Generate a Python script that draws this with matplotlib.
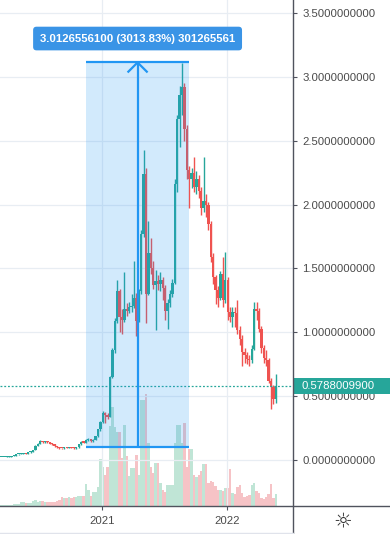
import numpy as np
import pandas as pd
import matplotlib
matplotlib.use("Agg")
import matplotlib.pyplot as plt
import matplotlib.dates as mdates
import matplotlib.transforms as mtransforms
from matplotlib.patches import Rectangle
from matplotlib.lines import Line2D

plt.rcParams['font.family'] = ['Liberation Sans', 'DejaVu Sans']

UP = '#26a69a'
DOWN = '#ef5350'
VOL_UP = '#c0e5d6'
VOL_DOWN = '#f6c3c6'
AXIS = '#50535e'
TEXT = '#4a4a4a'
GRID = '#e8edf3'
MEASURE = '#2196f3'

# weekly candles, first one on 2020-03-02
FIRST_OPEN = 0.025
closes = [0.026, 0.026, 0.027, 0.027, 0.028, 0.028, 0.033, 0.036, 0.045, 0.047,
          0.050, 0.052, 0.051, 0.060, 0.066, 0.078, 0.112, 0.128, 0.148, 0.142,
          0.145, 0.140, 0.130, 0.125, 0.110, 0.100, 0.094, 0.092, 0.100, 0.096,
          0.100, 0.098, 0.094, 0.100, 0.125, 0.142, 0.138, 0.160, 0.165, 0.152,
          0.158, 0.185, 0.240, 0.300, 0.370, 0.350, 0.340, 0.650, 0.860, 1.090,
          1.320, 1.120, 1.100, 1.180, 1.170, 1.200, 1.210, 1.270, 1.090, 1.320,
          1.770, 2.240, 1.300, 1.620, 1.500, 1.370, 1.400, 1.380, 1.410, 1.350,
          1.170, 1.230, 1.300, 1.390, 2.160, 2.670, 2.860, 2.920, 2.590, 2.270,
          2.200, 2.250, 2.140, 2.200, 2.110, 1.970, 2.030, 2.000, 1.850, 1.590,
          1.430, 1.330, 1.270, 1.460, 1.250, 1.410, 1.160, 1.120, 1.160, 1.150,
          1.020, 0.950, 0.850, 0.820, 0.790, 0.780, 0.870, 1.180, 1.170, 1.030,
          0.880, 0.800, 0.780, 0.620, 0.570, 0.480, 0.5788009900]
highs = [0.027, 0.027, 0.028, 0.028, 0.030, 0.030, 0.034, 0.038, 0.047, 0.050,
         0.052, 0.055, 0.055, 0.062, 0.069, 0.080, 0.118, 0.135, 0.155, 0.152,
         0.150, 0.148, 0.142, 0.134, 0.128, 0.113, 0.104, 0.098, 0.104, 0.103,
         0.104, 0.103, 0.101, 0.104, 0.128, 0.147, 0.146, 0.166, 0.172, 0.168,
         0.165, 0.190, 0.245, 0.310, 0.385, 0.380, 0.370, 0.660, 0.880, 1.110,
         1.410, 1.340, 1.180, 1.470, 1.230, 1.240, 1.300, 1.560, 1.310, 1.340,
         1.800, 2.430, 2.290, 1.870, 1.740, 1.560, 1.490, 1.450, 1.470, 1.430,
         1.370, 1.260, 1.330, 1.420, 2.200, 2.700, 2.930, 3.110, 2.950, 2.620,
         2.300, 2.290, 2.370, 2.260, 2.230, 2.140, 2.370, 2.080, 2.020, 1.870,
         1.620, 1.450, 1.360, 1.480, 1.590, 1.630, 1.430, 1.200, 1.200, 1.200,
         1.250, 1.050, 0.980, 0.880, 0.850, 0.820, 0.900, 1.240, 1.240, 1.190,
         1.050, 0.900, 0.860, 0.800, 0.640, 0.590, 0.677]
lows = [0.024, 0.025, 0.025, 0.026, 0.026, 0.027, 0.027, 0.032, 0.035, 0.043,
        0.045, 0.048, 0.049, 0.050, 0.058, 0.064, 0.076, 0.108, 0.125, 0.136,
        0.138, 0.134, 0.125, 0.119, 0.105, 0.095, 0.089, 0.087, 0.090, 0.092,
        0.093, 0.094, 0.090, 0.091, 0.098, 0.122, 0.132, 0.135, 0.150, 0.140,
        0.145, 0.155, 0.180, 0.230, 0.290, 0.290, 0.320, 0.335, 0.640, 0.840,
        1.070, 1.000, 0.990, 1.080, 1.130, 1.150, 1.160, 1.190, 0.970, 1.080,
        1.300, 1.750, 1.070, 1.290, 1.460, 1.340, 1.020, 1.330, 1.320, 1.250,
        1.100, 1.030, 1.200, 1.280, 1.380, 2.100, 2.450, 2.700, 2.500, 2.200,
        1.970, 2.130, 2.100, 2.080, 2.050, 1.920, 1.940, 1.900, 1.800, 1.550,
        1.380, 1.220, 1.200, 1.250, 1.200, 1.230, 1.100, 1.080, 1.040, 1.040,
        0.990, 0.900, 0.740, 0.760, 0.750, 0.740, 0.760, 0.860, 1.100, 1.000,
        0.840, 0.760, 0.740, 0.600, 0.400, 0.440, 0.450]
# volume, in the height it has on the chart
volumes = [1, 1, 1, 1, 1, 1, 1, 2, 2, 2,
           4, 4, 3, 3, 3, 5, 6, 4, 5, 5,
           4, 4, 4, 4, 4, 5, 6, 9, 8, 8,
           9, 8, 9, 9, 10, 10, 10, 22, 16, 10,
           14, 14, 19, 47, 39, 31, 39, 80, 99, 79,
           74, 74, 48, 81, 50, 30, 38, 38, 51, 31,
           106, 106, 112, 63, 39, 33, 43, 43, 23, 16,
           14, 21, 21, 21, 63, 81, 81, 63, 83, 39,
           57, 57, 31, 29, 31, 35, 42, 42, 23, 25,
           24, 20, 16, 16, 15, 18, 18, 37, 13, 12,
           19, 21, 13, 9, 10, 11, 21, 23, 15, 13,
           8, 7, 9, 12, 22, 8, 12]

price_ticks = [0.0, 0.5, 1.0, 1.5, 2.0, 2.5, 3.0, 3.5]
year_ticks = ['2021-01-01', '2022-01-01']
year_labels = ['2021', '2022']

# price range tool
MEASURE_FROM = 37
MEASURE_TO = 80
measure_low = 0.0999611
measure_high = 3.11261671

closes = np.array(closes)
opens = np.r_[FIRST_OPEN, closes[:-1]]
highs = np.array(highs)
lows = np.array(lows)
dates = pd.date_range('2020-03-02', periods=len(closes), freq='7D')
x = mdates.date2num(dates)
up = closes >= opens
col = np.where(up, UP, DOWN)
vcol = np.where(up, VOL_UP, VOL_DOWN)

W, H = 390, 534
fig = plt.figure(figsize=(W / 100, H / 100), dpi=100)
rect = [0, 28 / H, 293 / W, 506 / H]
axv = fig.add_axes(rect, zorder=0)
ax = fig.add_axes(rect, zorder=1)
ax.patch.set_alpha(0)

yt = mdates.date2num(pd.to_datetime(year_ticks))
days_px = (yt[1] - yt[0]) / 125.3
x_left = yt[0] - 101.7 * days_px
x_right = x_left + 293 * days_px

# volume
axv.bar(x, volumes, width=7.0, color=vcol, linewidth=0)
axv.set_xlim(x_left, x_right)
axv.set_ylim(0, 506)
axv.axis('off')

# candles
ax.vlines(x, lows, highs, color=col, lw=1.0, zorder=3)
ax.bar(x, np.maximum(np.abs(closes - opens), 0.008), bottom=np.minimum(opens, closes),
       width=6.9, color=col, linewidth=0, zorder=3)

ax.set_xlim(x_left, x_right)
ax.set_ylim(-0.359, 3.6016)

ax.set_yticks(price_ticks)
ax.set_yticklabels([f"{v:.10f}" for v in price_ticks])
ax.yaxis.tick_right()
ax.set_xticks(yt)
ax.set_xticklabels(year_labels)
ax.tick_params(axis='y', length=3, width=0.8, color=AXIS, labelsize=8.2,
               labelcolor=TEXT, pad=3.5)
ax.tick_params(axis='x', length=3, width=0.8, color=AXIS, labelsize=8.2,
               labelcolor=TEXT, pad=4)
ax.grid(color=GRID, lw=0.9, zorder=0)
ax.set_axisbelow(True)
for s in ax.spines.values():
    s.set_visible(False)

# last price
last = closes[-1]
ax.axhline(last, color=UP, lw=0.9, ls=(0, (1.5, 1.5)), zorder=4)
blend = mtransforms.blended_transform_factory(fig.transFigure, ax.transData)
ax.add_patch(Rectangle((293 / W, last - 8 / 128), 97 / W, 16 / 128, transform=blend,
                       facecolor=UP, edgecolor='none', clip_on=False, zorder=10))
ax.text(302 / W, last, f"{last:.10f}", transform=blend, ha='left', va='center',
        color='white', fontsize=8.2, zorder=11, clip_on=False)

# price range drawing
x0, x1 = x[MEASURE_FROM], x[MEASURE_TO]
mid = (x0 + x1) / 2
ax.add_patch(Rectangle((x0, measure_low), x1 - x0, measure_high - measure_low,
                       facecolor=MEASURE, alpha=0.2, edgecolor='none', zorder=5))
ax.hlines([measure_low, measure_high], x0, x1, color=MEASURE, lw=1.6, zorder=6)
ax.vlines(mid, measure_low, measure_high, color=MEASURE, lw=1.6, zorder=6)
ax.plot([mid - 10 * days_px, mid, mid + 10 * days_px],
        [measure_high - 10 / 128, measure_high, measure_high - 10 / 128],
        color=MEASURE, lw=1.6, zorder=6, solid_capstyle='butt')
diff = round(measure_high - measure_low, 8)
label = f"{diff:.10f} ({diff / measure_low * 100:.2f}%) {round(diff * 1e8)}"
ax.text(mid, 3.30, label, ha='center', va='center', color='white', fontsize=8.2,
        fontweight='bold', zorder=8,
        bbox=dict(boxstyle='round,pad=0.6,rounding_size=0.3', fc='#3a94e6', ec='none'))

# frame lines of the chart pane
fig.add_artist(Line2D([0, 1], [28 / H, 28 / H], color=AXIS, lw=1))
fig.add_artist(Line2D([293 / W, 293 / W], [1 / H, 1], color=AXIS, lw=1))
fig.add_artist(Line2D([0, 293 / W], [1.5 / H, 1.5 / H], color='#e0e3eb', lw=1))
fig.text(343 / W, 1 - 521 / H, '\u263c', ha='center', va='center', fontsize=15,
         color='#333333', family='DejaVu Sans')

fig.savefig('out.png', dpi=100, facecolor='white')
